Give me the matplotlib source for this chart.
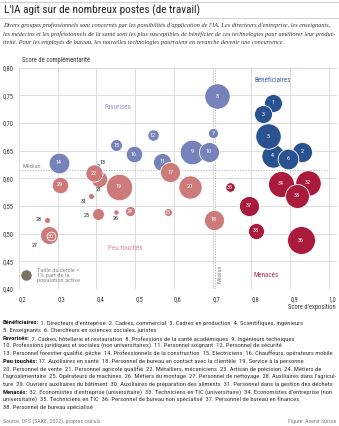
import matplotlib.pyplot as plt
from matplotlib import font_manager
from matplotlib.lines import Line2D

# occupational groups: exposure score, complementarity score, share of labour force (%)
job_ids = list(range(1, 39))
exposure = [0.855, 0.930, 0.830, 0.855, 0.843, 0.895,
            0.702, 0.712, 0.647, 0.690, 0.570, 0.546, 0.405, 0.302, 0.451, 0.496,
            0.590, 0.703, 0.457, 0.641, 0.407, 0.393, 0.584, 0.486, 0.404, 0.450,
            0.277, 0.272, 0.306, 0.283, 0.386,
            0.945, 0.918, 0.876, 0.745, 0.928, 0.793, 0.811]
complementarity = [0.736, 0.648, 0.716, 0.641, 0.676, 0.635,
                   0.681, 0.748, 0.648, 0.648, 0.630, 0.678, 0.624, 0.628, 0.660, 0.643,
                   0.611, 0.525, 0.585, 0.585, 0.598, 0.609, 0.539, 0.540, 0.535, 0.539,
                   0.497, 0.525, 0.588, 0.495, 0.568,
                   0.592, 0.568, 0.590, 0.584, 0.488, 0.550, 0.505]
share = [2.5, 3.1, 2.5, 4.2, 5.0, 3.3,
         0.8, 5.0, 4.7, 3.1, 2.5, 1.0, 0.12, 3.3, 1.1, 2.1,
         3.1, 3.1, 5.4, 4.2, 2.1, 2.3, 0.5, 0.8, 1.1, 0.22,
         2.5, 0.28, 2.1, 0.6, 0.28,
         5.0, 4.4, 5.2, 0.7, 6.0, 3.1, 2.0]
groups = ["Bénéficiaires"] * 6 + ["Favorisés"] * 10 + ["Peu touchés"] * 15 + ["Menacés"] * 7

median_exposure = 0.705
median_complementarity = 0.614

x_ticks = [0.2, 0.3, 0.4, 0.5, 0.6, 0.7, 0.8, 0.9, 1.0]
y_ticks = [0.40, 0.45, 0.50, 0.55, 0.60, 0.65, 0.70, 0.75, 0.80]

title = "L'IA agit sur de nombreux postes (de travail)"
subtitle = [
    "Divers groupes professionnels sont concernés par les possibilités d'application de l'IA. Les directeurs d'entreprise, les enseignants,",
    "les médecins et les professionnels de la santé sont les plus susceptibles de bénéficier de ces technologies pour améliorer leur produc-",
    "tivité. Pour les employés de bureau, les nouvelles technologies pourraient en revanche devenir une concurrence.",
]
notes = [
    ("Bénéficiaires:", " 1. Directeurs d'entreprise  2. Cadres, commercial  3. Cadres en production  4. Scientifiques, ingénieurs"),
    ("", "5. Enseignants  6. Chercheurs en sciences sociales, juristes"),
    ("Favorisés:", " 7. Cadres, hôtellerie et restauration  8. Professions de la santé académiques  9. Ingénieurs techniques"),
    ("", "10. Professions juridiques et sociales (non universitaires)  11. Personnel soignant  12. Personnel de sécurité"),
    ("", "13. Personnel forestier qualifié, pêche  14. Professionnels de la construction  15. Electriciens  16. Chauffeurs, opérateurs mobile"),
    ("Peu touchés:", " 17. Auxiliaires en santé  18. Personnel de bureau en contact avec la clientèle  19. Service à la personne"),
    ("", "20. Personnel de vente  21. Personnel agricole qualifié  22. Métalliers, mécaniciens  23. Artisan de précision  24. Métiers de"),
    ("", "l'agroalimentaire  25. Opérateurs de machines  26. Métiers du montage  27. Personnel de nettoyage  28. Auxiliaires dans l'agricul-"),
    ("", "ture  29. Ouvriers auxiliaires du bâtiment  30. Auxiliaires de préparation des aliments  31. Personnel dans la gestion des déchets"),
    ("Menacés:", " 32. Economistes d'entreprise (universitaire)  33. Techniciens en TIC (universitaire)  34. Economistes d'entreprise (non"),
    ("", "universitaire)  35. Techniciens en TIC  36. Personnel de bureau non spécialisé  37. Personnel de bureau en finances"),
    ("", "38. Personnel de bureau spécialisé"),
]

W, H = 339, 426
installed = {f.name for f in font_manager.fontManager.ttflist}
narrow = next((n for n in ["Liberation Sans Narrow", "Roboto Condensed", "Roboto"]
               if n in installed), "DejaVu Sans")
SANS = [narrow, "DejaVu Sans"]
GRID = "#dcdcdc"
INK = "#3a3a3a"

colors = {"Bénéficiaires": "#2a5291", "Favorisés": "#7683bb",
          "Peu touchés": "#cd7a7a", "Menacés": "#aa1a3c"}
label_colors = {"Bénéficiaires": "#3a5c9c", "Favorisés": "#8a92c4",
                "Peu touchés": "#d98ca0", "Menacés": "#b0304f"}
label_pos = {"Bénéficiaires": (0.855, 0.777), "Favorisés": (0.456, 0.727),
             "Peu touchés": (0.475, 0.474), "Menacés": (0.838, 0.425)}

# small bubbles get their number next to them (offset in points)
outside = {13: (3, 2), 21: (0, -7), 31: (-5, -4), 28: (-6, 0),
           27: (-10, -7), 25: (-8, -1), 26: (0, -5)}
on_top = {10, 6, 22, 30, 33}
pt_per_pct = 67.0


def px(x, y):
    return x / W, 1 - y / H


def fit_width(txt, width):
    # rescale a text's font so it spans the given width in pixels
    w = txt.get_window_extent(renderer).width
    txt.set_fontsize(txt.get_fontsize() * width / w)
    return txt.get_fontsize()


plt.rcParams["font.family"] = SANS
fig = plt.figure(figsize=(W / 100, H / 100), dpi=100)
renderer = fig.canvas.get_renderer()

ax = fig.add_axes([19 / W, 1 - 289 / H, (337 - 19) / W, (289 - 67.5) / H])
ax.set_xlim(0.2, 1.021)
ax.set_ylim(0.40, 0.80)
for s in ax.spines.values():
    s.set_visible(False)
ax.set_xticks(x_ticks)
ax.set_yticks(y_ticks)
ax.set_xticklabels([f"{v:.1f}".replace(".", ",") for v in x_ticks])
ax.set_yticklabels([f"{v:.2f}".replace(".", ",") for v in y_ticks])
ax.tick_params(length=0, labelsize=4.8, colors=INK, pad=4)
ax.tick_params(axis="x", pad=5)
for lab in ax.get_xticklabels():
    lab.set_horizontalalignment("left")
ax.grid(True, color=GRID, lw=0.7)
ax.set_axisbelow(True)

ax.axhline(median_complementarity, xmax=(1.0 - 0.2) / 0.821, color="#b5b5b5",
           ls=(0, (1.2, 1.5)), lw=0.7, zorder=1)
ax.axvline(median_exposure, color="#b5b5b5", ls=(0, (1.2, 1.5)), lw=0.7, zorder=1)
ax.text(0.208, median_complementarity + 0.003, "Médian", fontsize=4.6,
        color="#8a8a8a", va="bottom")
ax.text(median_exposure + 0.008, 0.41, "Médian", fontsize=4.6, color="#8a8a8a",
        rotation=90, va="bottom", ha="left")

for name, (lx, ly) in label_pos.items():
    ax.text(lx, ly, name, fontsize=5.0, color=label_colors[name],
            ha="center", va="center")

for i, jid in enumerate(job_ids):
    g = groups[i]
    z = 4 if jid in on_top else 3
    ax.scatter(exposure[i], complementarity[i], s=share[i] * pt_per_pct,
               color=colors[g], edgecolor="white", linewidth=0.6,
               zorder=z, clip_on=False)
    if jid in outside:
        dx, dy = outside[jid]
        ax.annotate(str(jid), (exposure[i], complementarity[i]),
                    xytext=(dx, dy), textcoords="offset points",
                    ha="center", va="center", fontsize=4.4, color="#222222",
                    zorder=5)
    else:
        ax.text(exposure[i], complementarity[i], str(jid), fontsize=4.4,
                color="white", ha="center", va="center", zorder=z)

# size key
ax.scatter(0.219, 0.4245, s=1.0 * pt_per_pct, color="#7a7362",
           edgecolor="white", linewidth=0.6, zorder=3, clip_on=False)
ax.text(0.246, 0.4245, "Taille du cercle =\n1% part de la\npopulation active",
        fontsize=4.6, color="#8a8a8a", va="center", ha="left", linespacing=1.1)

# header
fig.add_artist(Line2D([0, 1], [1 - 1.5 / H] * 2, color="#cfcfcf", lw=0.8))
fig.add_artist(Line2D([0, 1], [1 - 18 / H] * 2, color="#cfcfcf", lw=0.6))
t = fig.text(*px(4, 10.5), title, fontsize=8.0, color="#222222", va="center")
fit_width(t, 196)
sub = [fig.text(*px(3, 25.5 + 8.5 * k), line, fontsize=4.6, style="italic",
                family="Liberation Serif", color="#333333", va="center")
       for k, line in enumerate(subtitle)]
sub_size = fit_width(sub[0], 329)
for s in sub[1:]:
    s.set_fontsize(sub_size)

fig.text(*px(22, 60), "Score de complémentarité", fontsize=4.8, color=INK,
         va="center")
fig.text(*px(336, 307.5), "Score d'exposition", fontsize=4.8, color=INK,
         va="center", ha="right")

# footnote listing the occupations; font sized so the longest line fits
probe = fig.text(0, 0, notes[4][1], fontsize=4.5)
note_size = fit_width(probe, 327)
probe.remove()

y = 323
for k, (head, body) in enumerate(notes):
    if head and k > 0:
        y += 1
    x0 = 3
    if head:
        t = fig.text(*px(x0, y), head, fontsize=note_size, weight="bold",
                     color="#222222", va="center")
        x0 += t.get_window_extent(renderer).width
    fig.text(*px(x0, y), body, fontsize=note_size, color="#333333", va="center")
    y += 7.4

fig.text(*px(3, 421.5), "Source: OFS (SAKE, 2022), propres calculs",
         fontsize=note_size * 0.9, color="#808080", va="center")
fig.text(*px(336, 421.5), "Figure: Avenir Suisse", fontsize=note_size * 0.9,
         color="#808080", va="center", ha="right")

fig.savefig("out.png", dpi=100)
